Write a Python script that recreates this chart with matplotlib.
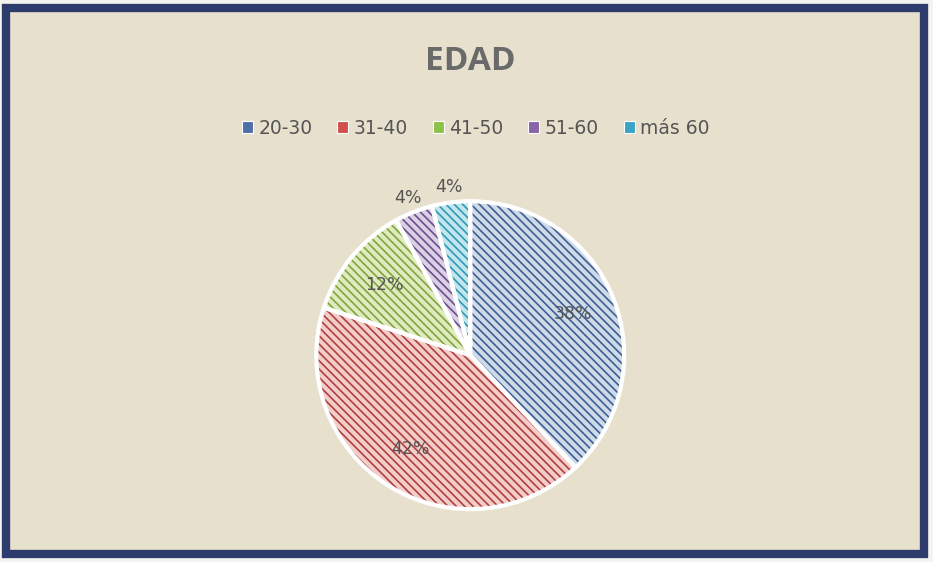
import matplotlib.pyplot as plt
from matplotlib.patches import Rectangle

# EDAD - age groups
labels = ['20-30', '31-40', '41-50', '51-60', 'más 60']
values = [38, 42, 12, 4, 4]
face_colors = ['#cfdae9', '#f2cdca', '#dfeabf', '#dcd0e4', '#c2e5ee']
hatch_colors = ['#3c5f94', '#b0403d', '#7fa540', '#6b4f8c', '#2f9ab5']
legend_colors = ['#4f6fa8', '#d0504b', '#8cc24a', '#8a63a8', '#3ba3c4']

plt.rcParams['hatch.linewidth'] = 1.2
fig = plt.figure(figsize=(9.33, 5.62), dpi=100, facecolor='#f4f3ef')

# scanned beige panel with navy frame
fig.patches.append(Rectangle((6 / 933, 8 / 562), 918 / 933, 546 / 562,
                             transform=fig.transFigure, facecolor='#e7e0cd',
                             edgecolor='#2d3c6c', linewidth=6, zorder=-5))

ax = fig.add_axes([0.504 - 0.165, 0.368 - 0.274, 0.330, 0.548])

wedges, _, autotexts = ax.pie(values, startangle=90, counterclock=False,
                              colors=face_colors, radius=1,
                              autopct='%1.0f%%', pctdistance=0.72,
                              textprops={'fontsize': 12.5, 'color': '#555555'},
                              wedgeprops={'linewidth': 0})
for w, hc in zip(wedges, hatch_colors):
    w.set_hatch('\\' * 4)
    w.set_edgecolor(hc)

ax.pie(values, startangle=90, counterclock=False, radius=1,
       wedgeprops={'fill': False, 'edgecolor': 'white', 'linewidth': 3})

ax.set_xlim(-1, 1)
ax.set_ylim(-1, 1)
ax.set_aspect('equal')
ax.axis('off')

# small slices get their labels just outside
for v, t in zip(values, autotexts):
    if v < 10:
        x, y = t.get_position()
        t.set_position((x / 0.72 * 1.1, y / 0.72 * 1.1))

fig.text(0.504, 0.89, 'EDAD', ha='center', va='center', fontsize=24,
         fontweight='bold', color='#6a6a6a', family='Open Sans')

handles = [Rectangle((0, 0), 1, 1, facecolor=c, edgecolor='white', linewidth=0.8)
           for c in legend_colors]
fig.legend(handles, labels, loc='center', bbox_to_anchor=(0.51, 0.772),
           ncol=5, frameon=False, fontsize=13.5, handlelength=0.6,
           handleheight=0.6, handletextpad=0.3, columnspacing=1.3,
           labelcolor='#555555')

plt.savefig('out.png', dpi=100, facecolor=fig.get_facecolor())
